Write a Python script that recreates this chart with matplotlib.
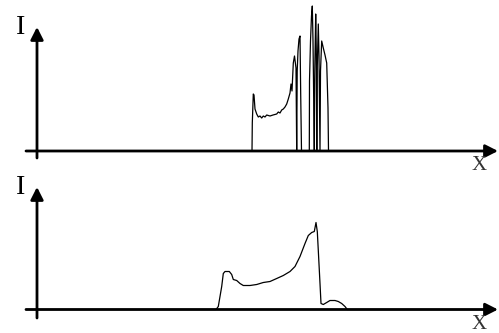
import matplotlib
matplotlib.use("Agg")
import matplotlib.pyplot as plt

# top spectrum: position (px units) and intensity
x_top = [26, 252, 252.3, 253.3, 254, 255, 256.7, 258.3, 260, 261.7, 263.3, 265,
         266.7, 270, 273, 276.7, 278.3, 280, 281.7, 283.3, 285, 286.7, 288.3,
         290, 291, 292, 293.3, 294.5, 296, 296.7, 297.2, 298, 299, 300, 300.7,
         301.5, 309.3, 309.5, 310.5, 311.5, 312.3, 313, 313.5, 314.3, 314.8,
         315.7, 316.3, 316.8, 317.3, 318.3, 319, 320, 320.5, 321.7, 323.3, 325,
         326.7, 328, 328.5, 490]
I_top = [0, 0, 28, 57, 56, 42, 37, 34, 35, 33, 35, 34,
         36, 35, 36, 37, 39, 38, 41, 42, 44, 47, 52,
         58, 67, 60, 88, 95, 83, 0, 80, 100, 112, 115, 57,
         0, 0, 70, 110, 135, 145, 110, 70, 0, 80,
         137, 100, 0, 85, 127, 95, 0, 80, 110, 103, 96,
         88, 43, 0, 0]

# bottom spectrum
x_bot = [26, 216, 218.3, 221.7, 223.3, 225, 229.3, 231.7, 233.3, 236.7, 240,
         243.3, 250, 256.7, 263.3, 270, 276.7, 283.3, 290, 295, 300, 305,
         308.3, 311.7, 314.3, 316, 317.3, 318.3, 320, 321, 323.3, 326.7, 330,
         335, 338.3, 341.7, 345, 347.3, 490]
I_bot = [0, 0, 3, 23, 36, 38, 38, 35, 30, 29, 26,
         24, 24, 25, 27, 28, 31, 34, 38, 43, 53, 66,
         74, 77, 78, 87, 78, 59, 26, 6, 5, 7, 9,
         9, 8, 6, 3, 0, 0]

fig = plt.figure(figsize=(4.99, 3.33), dpi=100)
ax1 = fig.add_axes([0, 167 / 333, 1, 166 / 333])
ax2 = fig.add_axes([0, 0, 1, 167 / 333])

def draw(ax, xs, ys, ylo, yhi, ybot, ytip, lab_i, lab_x):
    ax.set_xlim(0, 499)
    ax.set_ylim(ylo, yhi)
    ax.axis("off")
    ax.plot(xs, ys, color="black", lw=0.9)
    arrow = dict(arrowstyle="-|>,head_length=0.75,head_width=0.38",
                 lw=2.0, color="black", shrinkA=0, shrinkB=0,
                 mutation_scale=10)
    ax.annotate("", xy=(498, 0), xytext=(26, 0), arrowprops=arrow)
    ax.annotate("", xy=(37, ytip), xytext=(37, ybot), arrowprops=arrow)
    ax.text(20.5, lab_i, "I", fontsize=20, family="Liberation Serif",
            ha="center", va="center", color="black")
    ax.text(479.5, lab_x, "X", fontsize=15, family="Liberation Serif",
            ha="center", va="center", color="#333333")

draw(ax1, x_top, I_top, -15, 151, -7, 124, 123, -15)
draw(ax2, x_bot, I_bot, -23.5, 143.5, -8.5, 122.5, 121.5, -15)

fig.savefig("out.png", dpi=100)
